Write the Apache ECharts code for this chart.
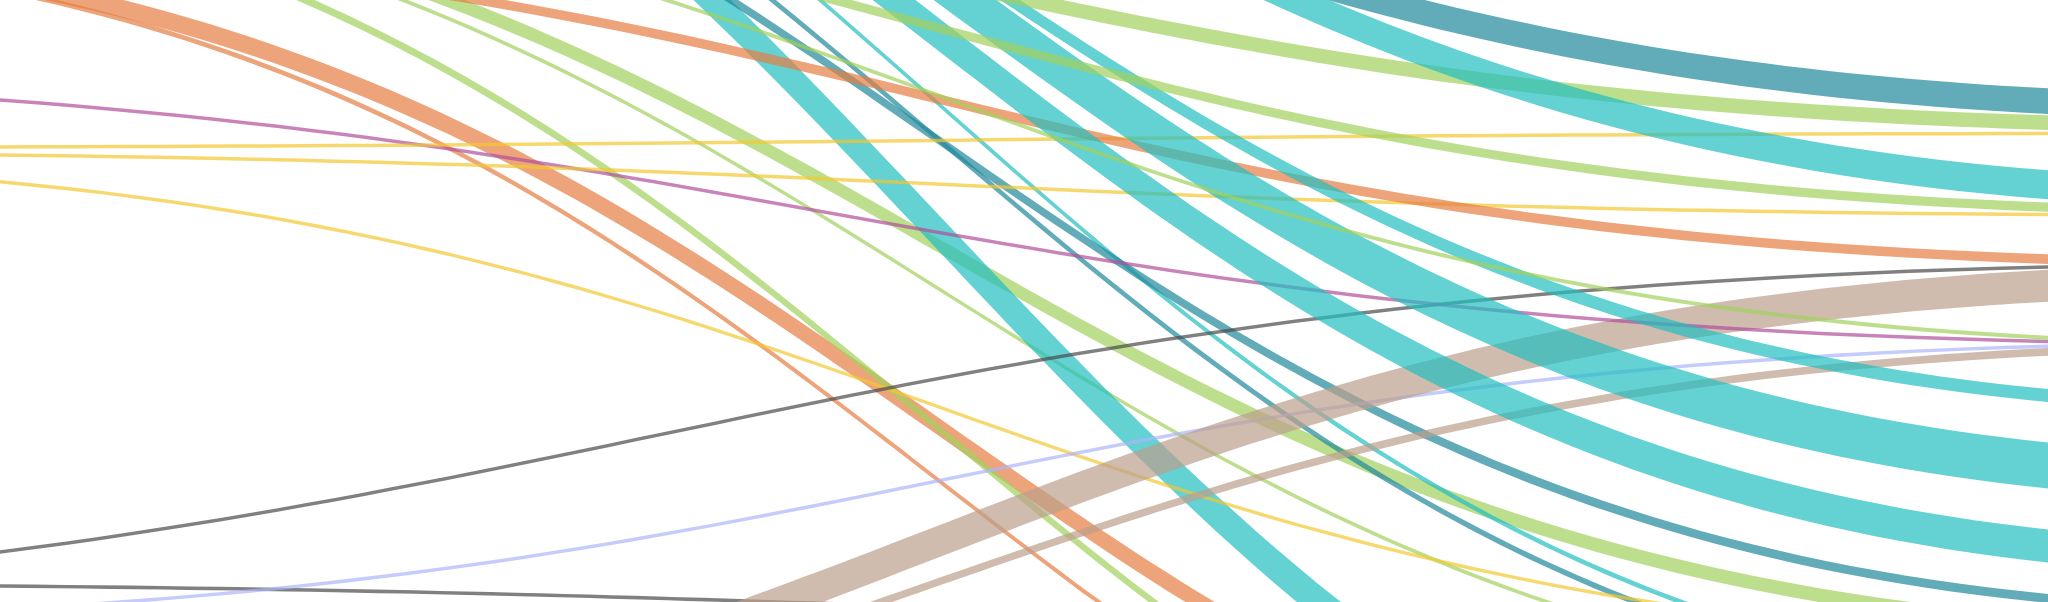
<!DOCTYPE html>
<html>
<head>
<meta charset="utf-8">
<script src="https://cdn.jsdelivr.net/npm/echarts@6/dist/echarts.min.js"></script>
<style>
html,body{margin:0;padding:0;background:#ffffff;}
#chart{width:2048px;height:602px;}
</style>
</head>
<body>
<div id="chart"></div>
<script>
// ---- data ----
const sourceNames = ['S01','S02','S03','S04','S05','S06','S07','S08','S09','S10','S11','S12','S13','S14','S15','S16','S17','S18','S19','S20','S21','S22','S23','S24','S25','S26','S27'];
const targetNames = ['T01','T02','T03','T04','T05','T06','T07','T08','T09','T10','T11','T12','T13','T14','T15','T16','T17','T18','T19','T20','T21','T22','T23','T24','T25','T26','T27'];
const flowValues = [5,18,8,4,14,36,5,9,6,3.5,3.5,3.5,32,7.7,3.5,3.5,3.5,3.5,9.6,46,13,33,25.7,14.6,9.2,4,29];
const flowFamily = ['orange','orange','green','green','green','teal','teal','darkteal','darkteal','yellow','gray','lavender','tan','tan','gray','purple','yellow','yellow','orange','teal','teal','teal','darkteal','green','green','green','teal'];

// ---- layout (node columns and band centres, px relative to the view) ----
const sourceX = [-430,-430,-430,-430,-430,-430,-430,-430,-430,-430,-430,-430,-430,-430,-990,-660,-430,-430,-430,-430,-430,-430,-430,-430,-430,-430,-430];
const TARGET_X = 2300;
const sourceCentre = [-50.6,-54.6,-142.3,-142.6,-145.8,-494.4,-503.2,-335,-445.1,163.2,584.2,620.3,806.8,820.6,607.4,78.2,147.5,152.6,-66.8,-521.7,-506.7,-495.8,-400.7,-165.7,-157.5,-155.7,-566.5];
const targetCentre = [1005.2,902.5,993,715.3,633.1,952.4,704.8,610.1,718.1,647.9,630,342.9,279.3,346,264.1,344.2,133.3,215.3,263.2,477.8,406.7,559,107.5,126.2,211.7,343.9,194.2];
const NODE_W = 10;
const BOX = {left:-1100, top:-620, width:3500, height:1700};

// ---- styles ----
const palette = {
  teal:'#22bdc0', darkteal:'#20889a', green:'#a1d15c', orange:'#e57d41',
  yellow:'#f2c731', purple:'#b04f9b', gray:'#4a4a4a', tan:'#bc9f8b', lavender:'#acb5f9'
};

const total = flowValues.reduce((a,b)=>a+b,0);
const gap = (BOX.height - total) / (flowValues.length - 1);   // keeps 1 value unit = 1 px
const nodes = [];
const links = [];
sourceNames.forEach((s,i)=>{
  const w = flowValues[i];
  nodes.push({name:s,
    localX:(sourceX[i] - NODE_W - BOX.left)/BOX.width,
    localY:(sourceCentre[i] - w/2 - BOX.top)/BOX.height,
    itemStyle:{color:palette[flowFamily[i]]}});
});
targetNames.forEach((t,i)=>{
  const w = flowValues[i];
  nodes.push({name:t,
    localX:(TARGET_X - BOX.left)/BOX.width,
    localY:(targetCentre[i] - w/2 - BOX.top)/BOX.height,
    itemStyle:{color:palette[flowFamily[i]]}});
});
sourceNames.forEach((s,i)=>{
  links.push({source:s, target:targetNames[i], value:flowValues[i]});
});

const chart = echarts.init(document.getElementById('chart'));
chart.setOption({
  animation:false,
  backgroundColor:'#ffffff',
  series:[{
    type:'sankey',
    left:BOX.left, top:BOX.top, width:BOX.width, height:BOX.height,
    nodeWidth:NODE_W, nodeGap:gap,
    layoutIterations:0,
    draggable:false,
    label:{show:false},
    emphasis:{disabled:true},
    lineStyle:{color:'source', opacity:0.7, curveness:0.5},
    data:nodes,
    links:links
  }]
});
</script>
</body>
</html>
